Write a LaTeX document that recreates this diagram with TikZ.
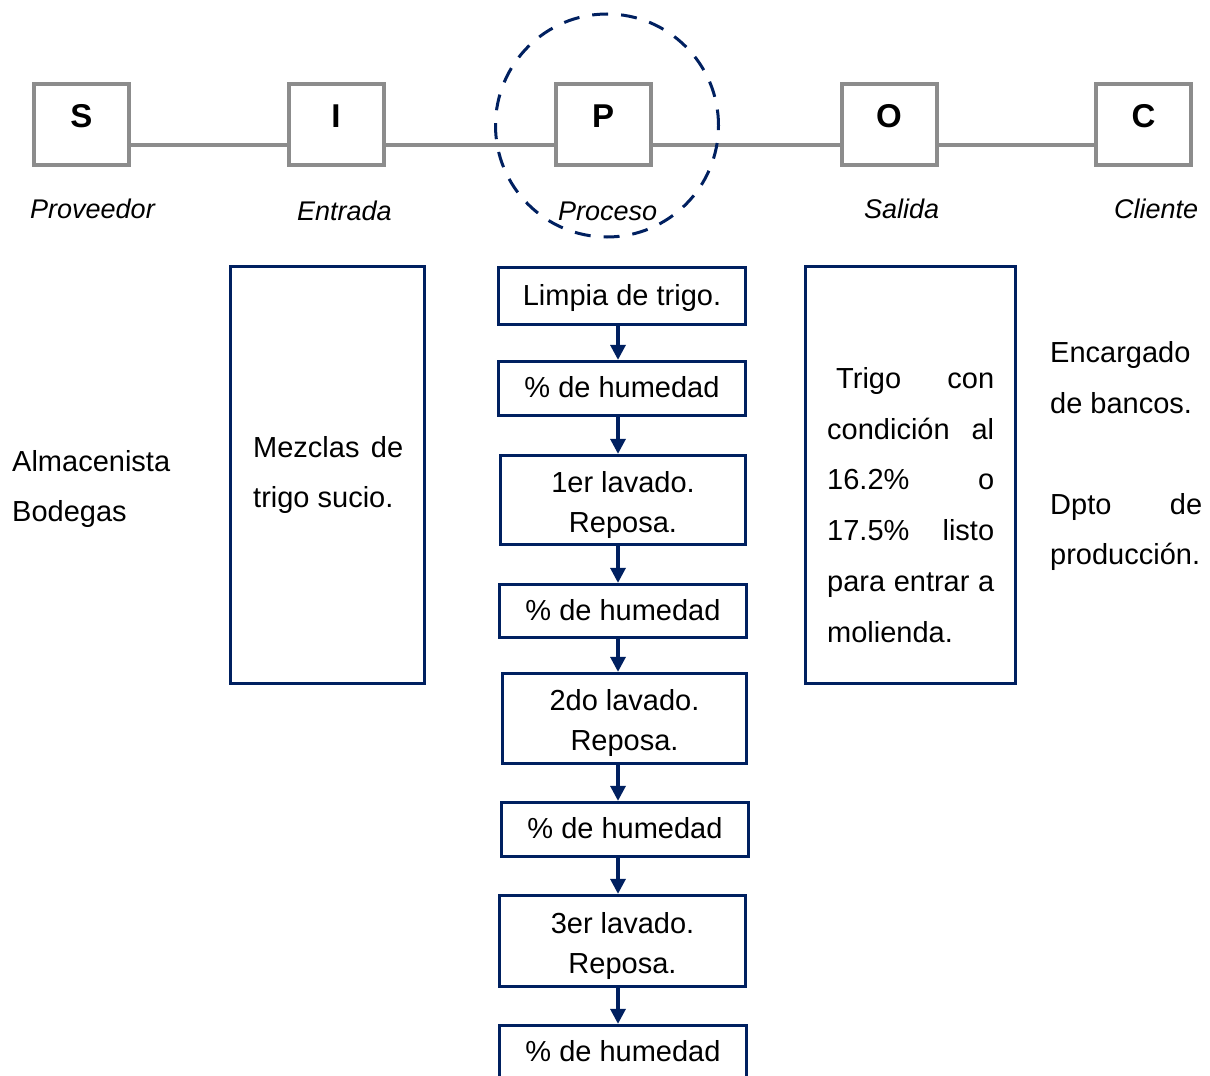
\documentclass[tikz,border=0pt]{standalone}
\usepackage{fontspec}
\setmainfont{Liberation Sans}
\usetikzlibrary{arrows.meta}
\definecolor{navy}{HTML}{002060}
\definecolor{sipocgray}{HTML}{8C8C8C}
% a line of text stretched to a given width
\newcommand\justline[2]{\makebox[#1][s]{#2}}
\begin{document}
\begin{tikzpicture}[x=1pt,y=-1pt,
  letterbox/.style={draw=sipocgray, line width=4pt, minimum width=95pt, minimum height=81pt,
    inner sep=0pt, font=\fontsize{33}{38}\selectfont\bfseries, text height=23pt, text depth=18pt},
  link/.style={draw=sipocgray, line width=3.5pt},
  role/.style={font=\fontsize{27}{32}\selectfont\itshape, inner sep=0pt, anchor=base west},
  stepbox/.style={draw=navy, line width=3.3pt, inner sep=0pt, minimum width=247pt,
    font=\fontsize{29}{40}\selectfont, align=center},
  oneline/.style={text height=21pt, text depth=3pt},
  twoline/.style={text height=67pt, text depth=3pt},
  flow/.style={draw=navy, line width=3.3pt, -{Triangle[width=15pt,length=15pt]}},
  body/.style={inner sep=0pt, align=left, anchor=north west},
  sidebox/.style={draw=navy, line width=3.3pt, minimum height=417pt, inner sep=0pt}
]
\useasboundingbox (0,0) rectangle (1210,1076);
\fill[white] (0,0) rectangle (1210,1076);

% SIPOC header
\node[letterbox] (S) at (81.3,124.5) {S};
\node[letterbox] (I) at (336,124.5) {I};
\node[letterbox] (P) at (603,124.5) {P};
\node[letterbox] (O) at (889,124.5) {O};
\node[letterbox] (C) at (1143.5,124.5) {C};
\draw[link] ([yshift=-20.5pt]S.east) -- ([yshift=-20.5pt]I.west);
\draw[link] ([yshift=-20.5pt]I.east) -- ([yshift=-20.5pt]P.west);
\draw[link] ([yshift=-20.5pt]P.east) -- ([yshift=-20.5pt]O.west);
\draw[link] ([yshift=-20.5pt]O.east) -- ([yshift=-20.5pt]C.west);

% highlight on the process stage
\node[circle, draw=navy, line width=3pt, dash pattern=on 16pt off 13pt,
  minimum size=223pt, inner sep=0pt] (focus) at (607,125.5) {};

\node[role] (lS) at (30,218) {Proveedor};
\node[role] (lI) at (297,220) {Entrada};
\node[role] (lP) at (558,220) {Proceso};
\node[role] (lO) at (864,218) {Salida};
\node[role] (lC) at (1114,218) {Cliente};

% process steps
\node[stepbox, oneline, minimum height=57pt] (B1) at (622,296) {Limpia de trigo.};
\node[stepbox, oneline, minimum height=54pt] (B2) at (622,388.5) {\% de humedad};
\node[stepbox, twoline, minimum width=245pt, minimum height=89pt] (B3) at (623,500) {1er lavado.\\Reposa.};
\node[stepbox, oneline, minimum height=53pt] (B4) at (623,611) {\% de humedad};
\node[stepbox, twoline, minimum width=244pt, minimum height=90pt] (B5) at (624.5,718.5) {2do lavado.\\Reposa.};
\node[stepbox, oneline, minimum height=54pt] (B6) at (625,829.5) {\% de humedad};
\node[stepbox, twoline, minimum width=246pt, minimum height=91pt] (B7) at (622.5,941) {3er lavado.\\Reposa.};
\node[stepbox, oneline, minimum height=54pt] (B8) at (623,1052.5) {\% de humedad};

\coordinate (spine) at (618,0);
\draw[flow] (B1.south -| spine) -- (B2.north -| spine);
\draw[flow] (B2.south -| spine) -- (B3.north -| spine);
\draw[flow] (B3.south -| spine) -- (B4.north -| spine);
\draw[flow] (B4.south -| spine) -- (B5.north -| spine);
\draw[flow] (B5.south -| spine) -- (B6.north -| spine);
\draw[flow] (B6.south -| spine) -- (B7.north -| spine);
\draw[flow] (B7.south -| spine) -- (B8.north -| spine);

% inputs and outputs
\node[sidebox, minimum width=194pt] (inbox) at (327.5,475) {};
\node[sidebox, minimum width=210pt] (outbox) at (910.5,475) {};

\node[body, font=\fontsize{29}{50}\selectfont] (intext) at (253,436)
  {\justline{150pt}{Mezclas de}\\trigo sucio.};
\node[body, font=\fontsize{29}{50.8}\selectfont] (outtext) at (827,367)
  {\justline{167pt}{\hspace*{9pt}Trigo con}\\
   \justline{167pt}{condición al}\\
   \justline{167pt}{16.2\% o}\\
   \justline{167pt}{17.5\% listo}\\
   \justline{167pt}{para entrar a}\\
   molienda.};

\node[body, font=\fontsize{29}{50}\selectfont] (supplier) at (12,450)
  {Almacenista\\Bodegas};
\node[body, font=\fontsize{29}{51}\selectfont] (client1) at (1050,341)
  {Encargado\\de bancos.};
\node[body, font=\fontsize{29}{50}\selectfont] (client2) at (1050,493)
  {\justline{152pt}{Dpto de}\\producción.};
\end{tikzpicture}
\end{document}
